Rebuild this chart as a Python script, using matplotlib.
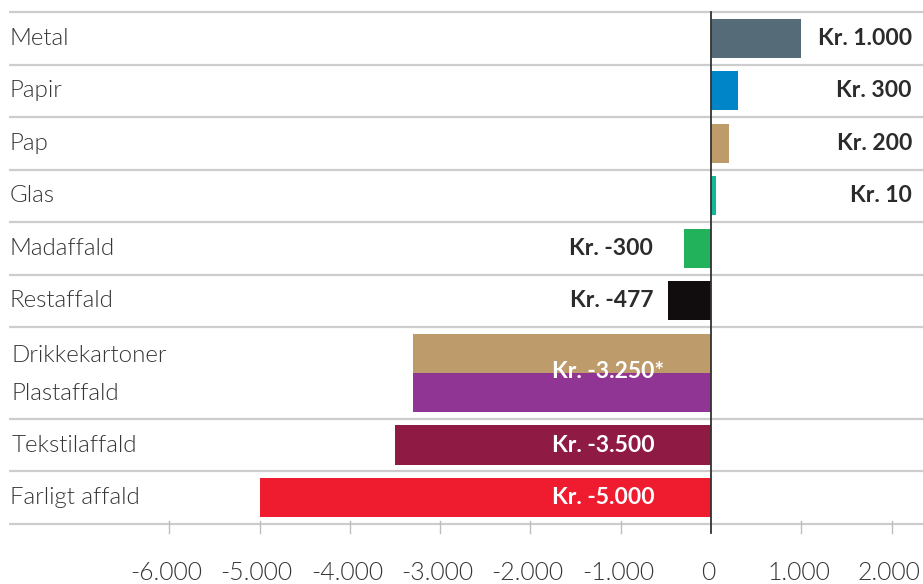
import matplotlib
matplotlib.use("Agg")
import matplotlib.pyplot as plt

categories = ["Metal", "Papir", "Pap", "Glas", "Madaffald", "Restaffald",
              "Drikkekartoner", "Plastaffald", "Tekstilaffald", "Farligt affald"]
values = [1000, 300, 200, 60, -300, -477, -3300, -3300, -3500, -5000]
value_labels = ["Kr. 1.000", "Kr. 300", "Kr. 200", "Kr. 10", "Kr. -300", "Kr. -477",
                "Kr. -3.250*", None, "Kr. -3.500", "Kr. -5.000"]
colors = ["#566b78", "#0085c8", "#bd9b6a", "#13b89b", "#22b25c", "#110d0e",
          "#bd9b6a", "#913594", "#8f1a43", "#ee1c2e"]
tick_values = [-6000, -5000, -4000, -3000, -2000, -1000, 0, 1000, 2000]
tick_labels = ["-6.000", "-5.000", "-4.000", "-3.000", "-2.000", "-1.000", "0", "1.000", "2.000"]

W, H = 923, 584
fig = plt.figure(figsize=(W / 100, H / 100), dpi=100)
ax = fig.add_axes([0, 0, 1, 1])

X0, XS = 711, 90.3 / 1000.0   # pixel of zero, pixels per unit
Y0, YS = 12, 52.5             # pixel of top line, pixels per row unit
def px2x(p):
    return (p - X0) / XS
def py2y(p):
    return (p - Y0) / YS

ax.set_xlim(px2x(0), px2x(W))
ax.set_ylim(py2y(H), py2y(0))
ax.axis("off")

LIGHT = 300
TXT = "#363636"

# row layout
ypos = [0.5, 1.5, 2.5, 3.5, 4.5, 5.5, 6.5, 7.25, 8.25, 9.25]
seps = [0, 1, 2, 3, 4, 5, 6, 7.75, 8.75, 9.75]
bar_h = 0.75

for s in seps:
    ax.plot([px2x(9), px2x(W)], [s, s], color="#cdcdcd", lw=1.6, zorder=1,
            solid_capstyle="butt")

ax.barh(ypos, values, height=bar_h, color=colors, zorder=2)

# zero line
ax.plot([0, 0], [0, py2y(533)], color="#333333", lw=1.3, zorder=4)

# ticks
for tv, tl in zip(tick_values, tick_labels):
    if tv != 0:
        ax.plot([tv, tv], [py2y(521), py2y(533)], color="#bdbdbd", lw=1.0, zorder=1)
    ax.text(tv - 30, py2y(573), tl, ha="center", va="center", fontsize=17.8,
            family="Lato", fontweight=LIGHT, color=TXT)

label_x = [10, 10, 10, 10, 10, 10, 12, 12, 12, 10]
label_y = ypos[:]
label_y[6] = py2y(356)
label_y[7] = py2y(393)
for c, lx, ly in zip(categories, label_x, label_y):
    ax.text(px2x(lx), ly, c, ha="left", va="center", fontsize=17.4,
            family="Lato", fontweight=LIGHT, color=TXT)

for i, (v, lab) in enumerate(zip(values, value_labels)):
    if lab is None:
        continue
    y = ypos[i]
    if i == 6:
        y = (ypos[6] + ypos[7]) / 2 - 0.03
    if v >= 0:
        ax.text(px2x(912), y, lab, ha="right", va="center", fontsize=16.5,
                family="Lato", fontweight="bold", color="#2b2b2b", zorder=5)
    elif v > -1000:
        ax.text(px2x(653), y, lab, ha="right", va="center", fontsize=16.5,
                family="Lato", fontweight="bold", color="#2b2b2b", zorder=5)
    else:
        ax.text(px2x(552), y, lab, ha="left", va="center", fontsize=16.5,
                family="Lato", fontweight="bold", color="white", zorder=5)

fig.savefig("out.png", dpi=100)
